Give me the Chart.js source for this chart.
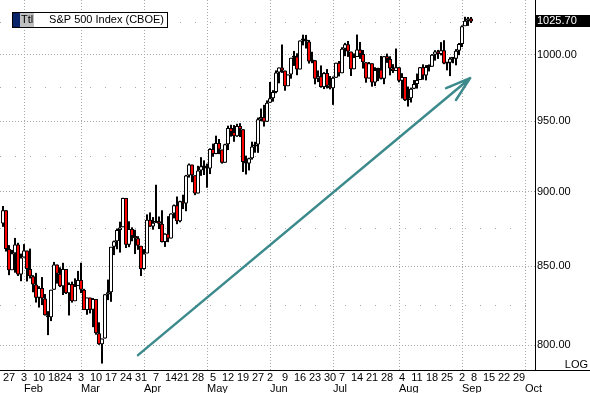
<!DOCTYPE html>
<html>
<head>
<meta charset="utf-8">
<script src="https://cdn.jsdelivr.net/npm/chart.js@4.4.0/dist/chart.umd.min.js"></script>
<style>
  html, body { margin: 0; padding: 0; background: #fff; }
  #wrap { position: relative; width: 590px; height: 393px; }
</style>
</head>
<body>
<div id="wrap"><canvas id="spx"></canvas></div>
<script>
// trading days, 2003 (MM-DD); the tail past Sep 5 only carries the axis
const dates = [
  '01-23','01-24','01-27','01-28','01-29','01-30','01-31',
  '02-03','02-04','02-05','02-06','02-07','02-10','02-11','02-12','02-13','02-14',
  '02-18','02-19','02-20','02-21','02-24','02-25','02-26','02-27','02-28',
  '03-03','03-04','03-05','03-06','03-07','03-10','03-11','03-12','03-13','03-14',
  '03-17','03-18','03-19','03-20','03-21','03-24','03-25','03-26','03-27','03-28','03-31',
  '04-01','04-02','04-03','04-04','04-07','04-08','04-09','04-10','04-11',
  '04-14','04-15','04-16','04-17','04-21','04-22','04-23','04-24','04-25','04-28','04-29','04-30',
  '05-01','05-02','05-05','05-06','05-07','05-08','05-09','05-12','05-13','05-14','05-15','05-16',
  '05-19','05-20','05-21','05-22','05-23','05-27','05-28','05-29','05-30',
  '06-02','06-03','06-04','06-05','06-06','06-09','06-10','06-11','06-12','06-13',
  '06-16','06-17','06-18','06-19','06-20','06-23','06-24','06-25','06-26','06-27','06-30',
  '07-01','07-02','07-03','07-07','07-08','07-09','07-10','07-11','07-14','07-15','07-16','07-17','07-18',
  '07-21','07-22','07-23','07-24','07-25','07-28','07-29','07-30','07-31',
  '08-01','08-04','08-05','08-06','08-07','08-08','08-11','08-12','08-13','08-14','08-15',
  '08-18','08-19','08-20','08-21','08-22','08-25','08-26','08-27','08-28','08-29',
  '09-02','09-03','09-04','09-05','09-08','09-09','09-10','09-11','09-12',
  '09-15','09-16','09-17','09-18','09-19','09-22','09-23','09-24','09-25','09-26','09-29','09-30',
  '10-01'
];

const open = [
  878.36,887.34,861.40,847.48,858.54,864.36,844.61,
  855.70,860.32,848.20,843.59,838.15,829.69,835.97,829.20,818.68,817.37,
  834.89,851.17,845.13,837.10,848.17,832.58,838.57,827.55,837.28,
  841.15,834.81,821.99,829.85,822.10,828.89,807.48,800.73,804.19,831.89,
  833.27,862.79,866.45,874.02,875.84,895.79,864.23,874.74,869.95,868.52,863.50,
  848.18,858.48,880.90,876.45,878.85,879.93,878.29,865.99,871.58,
  868.30,885.23,890.81,879.91,893.58,892.01,911.37,919.02,911.43,898.81,914.84,917.84,
  916.92,916.30,930.08,926.55,934.39,929.62,920.27,933.41,945.11,942.30,939.28,946.67,
  944.30,920.77,919.73,923.42,931.87,933.22,951.48,953.22,949.64,
  963.59,967.00,971.56,986.24,990.14,987.76,975.93,984.84,997.48,998.51,
  988.61,1010.74,1011.66,1010.09,994.70,995.69,981.64,983.45,975.32,985.82,976.22,
  974.50,982.32,993.75,985.70,1004.42,1007.84,1002.21,988.70,998.14,1003.86,1000.42,994.09,981.73,
  993.32,978.80,988.11,988.61,981.60,998.68,996.52,989.28,987.49,
  990.31,980.15,982.82,965.46,967.08,974.12,977.59,980.59,990.35,984.03,990.51,
  990.67,999.74,1002.35,1000.30,1003.27,993.06,993.71,996.73,996.79,1002.84,
  1008.01,1021.99,1026.27,1027.97
];
const high = [
  890.25,887.34,863.95,860.76,868.72,865.48,858.33,
  864.64,860.32,861.63,844.23,845.73,837.16,843.02,832.12,821.25,834.89,
  852.87,851.17,849.37,852.28,848.17,839.55,840.10,842.19,847.00,
  852.34,835.43,829.87,829.85,829.55,828.89,814.25,804.19,832.02,841.39,
  862.79,866.94,874.99,879.60,895.90,895.79,879.87,875.80,874.15,869.88,863.50,
  861.28,884.57,885.89,882.73,904.89,883.11,887.35,871.78,883.34,
  885.26,891.27,896.77,893.83,898.01,911.74,919.74,919.02,911.43,918.15,924.24,922.01,
  919.68,930.56,933.88,939.61,937.22,929.62,933.77,946.84,947.51,947.29,948.23,948.65,
  944.30,925.34,923.85,935.30,935.20,952.76,959.39,962.08,965.38,
  979.11,973.02,987.85,990.14,1007.69,987.76,984.84,997.48,1002.74,1000.92,
  1010.86,1015.33,1015.12,1011.22,1002.09,995.69,987.84,991.64,986.53,988.88,983.61,
  983.26,993.78,995.00,1005.56,1008.92,1010.43,1002.21,1000.86,1015.41,1009.61,1003.47,994.09,994.25,
  993.32,990.29,989.86,998.89,998.71,1000.68,998.64,992.62,1004.59,
  990.31,985.75,982.82,975.74,974.89,980.57,985.46,990.41,992.50,991.91,992.39,
  1000.35,1003.30,1003.54,1009.53,1011.01,993.71,997.93,998.05,1004.12,1008.85,
  1022.59,1029.34,1029.17,1029.21
];
const low = [
  876.12,859.71,844.25,847.48,845.86,843.74,840.34,
  855.70,840.19,842.11,833.25,826.70,823.53,825.09,818.49,806.29,815.03,
  834.89,838.79,836.56,831.48,832.16,818.54,826.68,827.55,837.28,
  832.74,821.96,819.00,819.85,811.23,806.57,800.30,788.90,804.19,828.26,
  827.17,857.36,861.21,859.01,875.84,862.02,862.59,866.47,858.09,860.83,843.68,
  847.85,858.48,876.12,874.23,878.85,874.68,865.72,862.76,865.92,
  868.30,881.85,877.93,879.20,888.17,886.70,909.89,906.69,897.72,898.81,911.10,911.70,
  902.83,912.35,924.55,926.38,926.41,919.72,920.27,929.30,938.91,935.24,938.79,938.60,
  913.82,912.05,914.91,922.54,927.42,927.33,950.12,946.23,949.64,
  963.59,964.47,970.72,978.13,986.01,972.59,975.93,981.61,991.27,984.27,
  988.61,1007.04,1004.61,993.08,993.36,977.40,979.08,974.86,973.80,974.29,973.60,
  962.10,982.32,983.34,985.70,998.73,998.17,983.63,988.70,998.14,996.67,989.30,978.60,981.71,
  975.63,976.08,979.79,981.07,977.49,993.59,984.15,985.96,987.49,
  978.86,966.79,964.97,960.84,963.82,973.83,974.21,980.59,980.85,980.36,987.10,
  990.67,995.30,996.62,999.33,992.62,987.91,983.57,993.33,991.75,999.52,
  1005.73,1021.99,1022.19,1024.50
];
const close = [
  887.34,861.40,847.48,858.54,864.36,844.61,855.70,
  860.32,848.20,843.59,838.15,829.69,835.97,829.20,818.68,817.37,834.89,
  851.17,845.13,837.10,848.17,832.58,838.57,827.55,837.28,841.15,
  834.81,821.99,829.85,822.10,828.89,807.48,800.73,804.19,831.90,833.27,
  862.79,866.45,874.02,875.67,895.79,864.23,874.74,869.95,868.52,863.50,848.18,
  858.48,880.90,876.45,878.85,879.93,878.29,865.99,871.58,868.30,
  885.23,890.81,879.91,893.58,892.01,911.37,919.02,911.43,898.81,914.84,917.84,916.92,
  916.30,930.08,926.55,934.39,929.62,920.27,933.41,945.11,942.30,939.28,946.67,944.30,
  920.77,919.73,923.42,931.87,933.22,951.48,953.22,949.64,963.59,
  967.00,971.56,986.24,990.14,987.76,975.93,984.84,997.48,998.51,988.61,
  1010.74,1011.66,1010.09,994.70,995.69,981.64,983.45,975.32,985.82,976.22,974.50,
  982.32,993.75,985.70,1004.42,1007.84,1002.21,988.70,998.14,1003.86,1000.42,994.09,981.73,993.32,
  978.80,988.11,988.61,981.60,998.68,996.52,989.28,987.49,990.31,
  980.15,982.82,965.46,967.08,974.12,977.59,980.59,990.35,984.03,990.51,990.67,
  999.74,1002.35,1000.30,1003.27,993.06,993.71,996.73,996.79,1002.84,1008.01,
  1021.99,1026.27,1027.97,1025.70
];

const yTicks = [800, 825, 850, 875, 900, 925, 950, 975, 1000, 1025];
const monthNames = ['Jan','Feb','Mar','Apr','May','Jun','Jul','Aug','Sep','Oct','Nov','Dec'];
const title = 'S&P 500 Index (CBOE)';
const scaleName = 'LOG';
// trend arrow, in (trading day, index level)
const arrowFrom = [45, 794];
const arrowTo = [155.7, 982];

const FONT = "'Liberation Sans', Arial, sans-serif";
const toDate = s => new Date(Date.UTC(2003, +s.slice(0, 2) - 1, +s.slice(3)));

// first trading day of each week and of each month
const weekIdx = [], monthIdx = [];
for (let i = 1; i < dates.length; i++) {
  const a = toDate(dates[i - 1]), b = toDate(dates[i]);
  if (b.getUTCDay() <= a.getUTCDay() || (b - a) > 4 * 864e5) weekIdx.push(i);
  if (b.getUTCMonth() !== a.getUTCMonth()) monthIdx.push(i);
}

const last = close.length - 1;
const upDown = close.map((c, i) => c < open[i] ? '#ff0000' : '#ffffff');

const overlay = {
  id: 'overlay',
  afterDatasetsDraw(chart) {
    const { ctx, chartArea: a, scales: { x, y } } = chart;
    ctx.save();
    // trend arrow
    const x0 = x.getPixelForValue(arrowFrom[0]), y0 = y.getPixelForValue(arrowFrom[1]);
    const x1 = x.getPixelForValue(arrowTo[0]), y1 = y.getPixelForValue(arrowTo[1]);
    const back = Math.atan2(y0 - y1, x0 - x1);
    ctx.strokeStyle = '#3d8a8c';
    ctx.lineWidth = 2.5;
    ctx.lineCap = 'round';
    ctx.beginPath();
    ctx.moveTo(x0, y0); ctx.lineTo(x1, y1);
    for (const d of [-0.3, 0.3]) {
      ctx.moveTo(x1, y1);
      ctx.lineTo(x1 + 26 * Math.cos(back + d), y1 + 26 * Math.sin(back + d));
    }
    ctx.stroke();
    ctx.restore();
  },
  afterDraw(chart) {
    const { ctx, chartArea: a, scales: { y } } = chart;
    ctx.save();
    // axis lines
    ctx.strokeStyle = '#000';
    ctx.lineWidth = 1;
    ctx.beginPath();
    ctx.moveTo(0, a.bottom + 0.5); ctx.lineTo(chart.width, a.bottom + 0.5);
    ctx.moveTo(a.right + 0.5, 0); ctx.lineTo(a.right + 0.5, a.bottom);
    ctx.stroke();

    // title box
    ctx.fillStyle = '#fff';
    ctx.fillRect(12, 12, 155, 15);
    ctx.fillStyle = '#0a246a';
    ctx.fillRect(13, 13, 7, 14);
    ctx.fillStyle = '#c0c0c0';
    ctx.fillRect(20, 13, 14, 14);
    ctx.strokeRect(12.5, 12.5, 155, 15);
    ctx.font = '11px ' + FONT;
    ctx.textBaseline = 'middle';
    ctx.fillStyle = '#000';
    ctx.textAlign = 'left';
    ctx.fillText('Ttl', 21, 20);
    ctx.textAlign = 'right';
    ctx.fillText(title, 164, 20);

    // last value tag
    const yl = Math.round(y.getPixelForValue(close[last]));
    ctx.fillStyle = '#000';
    ctx.fillRect(a.right, yl - 6, chart.width - a.right, 12);
    ctx.fillStyle = '#fff';
    ctx.textAlign = 'left';
    ctx.fillText(close[last].toFixed(2), a.right + 2, yl);

    // scale type
    ctx.fillStyle = '#000';
    ctx.textAlign = 'right';
    ctx.textBaseline = 'alphabetic';
    ctx.fillText(scaleName, chart.width - 2, a.bottom - 2);
    ctx.restore();
  }
};

const xRange = { min: -1, max: 177.33 };

new Chart(document.getElementById('spx'), {
  type: 'bar',
  data: {
    datasets: [
      {
        label: 'body',
        data: open.map((o, i) => ({ x: i, y: [o, close[i]] })),
        backgroundColor: upDown,
        borderColor: '#000',
        borderWidth: 1,
        borderSkipped: false,
        barThickness: 4,
        minBarLength: 2,
        inflateAmount: 0,
        grouped: false,
        order: 0
      },
      {
        label: 'wick',
        data: low.map((l, i) => ({ x: i, y: [l, high[i]] })),
        backgroundColor: '#000',
        borderWidth: 0,
        barThickness: 2,
        inflateAmount: 0,
        grouped: false,
        order: 1
      }
    ]
  },
  options: {
    responsive: true,
    maintainAspectRatio: false,
    animation: false,
    devicePixelRatio: 1,
    layout: { padding: 0 },
    plugins: { legend: { display: false }, tooltip: { enabled: false } },
    scales: {
      x: {
        type: 'linear', position: 'bottom', weight: 0, ...xRange,
        offset: false,
        grid: { display: false, offset: false, drawTicks: false },
        border: { display: false },
        afterBuildTicks: s => { s.ticks = weekIdx.map(v => ({ value: v })); },
        ticks: {
          autoSkip: false, maxRotation: 0, minRotation: 0, padding: 1,
          color: '#000', font: { family: FONT, size: 11 },
          callback: v => String(toDate(dates[v]).getUTCDate())
        },
        afterFit: s => { s.height = 12; s.paddingLeft = 0; s.paddingRight = 0; }
      },
      months: {
        type: 'linear', position: 'bottom', axis: 'x', weight: 1, ...xRange,
        offset: false,
        grid: { display: true, color: '#a8a8a8', drawTicks: false, offset: false },
        border: { display: false, dash: [1, 2] },
        afterBuildTicks: s => { s.ticks = monthIdx.map(v => ({ value: v })); },
        ticks: {
          autoSkip: false, maxRotation: 0, minRotation: 0, padding: 0, align: 'start',
          color: '#000', font: { family: FONT, size: 11 },
          callback: v => monthNames[toDate(dates[v]).getUTCMonth()]
        },
        afterFit: s => { s.height = 11; s.paddingLeft = 0; s.paddingRight = 0; }
      },
      y: {
        type: 'logarithmic', position: 'right', min: 785, max: 1042.7, bounds: 'data',
        grid: { color: '#a8a8a8', drawTicks: false },
        border: { display: false, dash: c => (c.tick && c.tick.value % 50 === 0) ? [1, 2] : [1, 14] },
        afterBuildTicks: s => { s.ticks = yTicks.map(v => ({ value: v })); },
        ticks: {
          padding: 2, color: '#000', font: { family: FONT, size: 11 },
          callback: v => v % 50 === 0 ? v.toFixed(2) : ''
        },
        afterFit: s => { s.width = 55; s.paddingTop = 0; s.paddingBottom = 0; }
      }
    }
  },
  plugins: [overlay]
});
</script>
</body>
</html>
